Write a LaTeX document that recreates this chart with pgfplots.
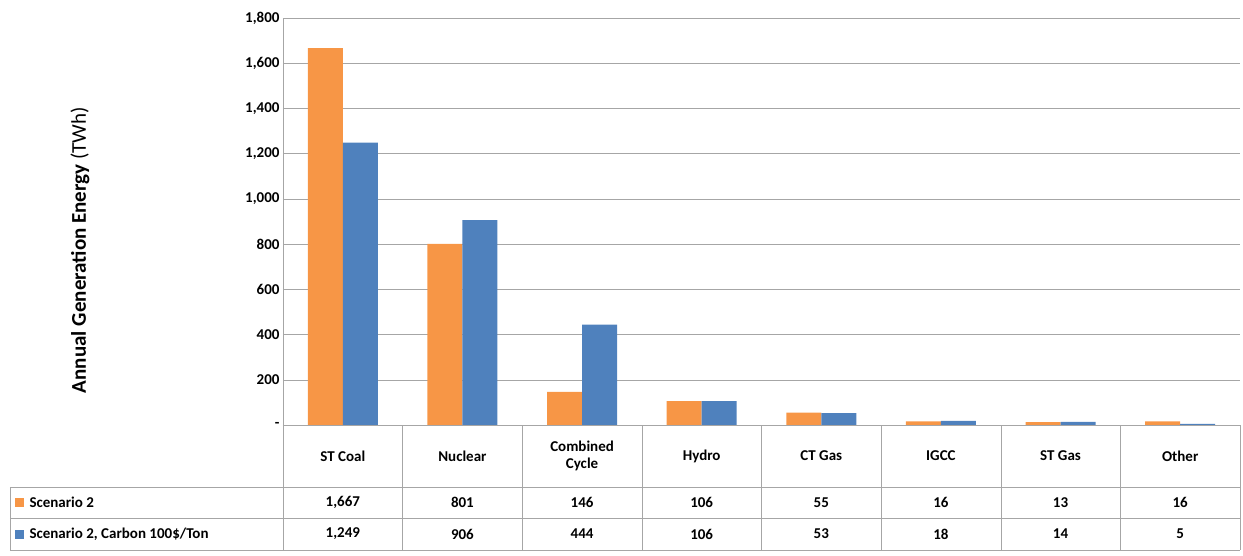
\documentclass[border=0pt]{standalone}
\usepackage{pgfplots}
\pgfplotsset{compat=1.18}
\usepackage{fontspec}
\setmainfont{Carlito}
\definecolor{ora}{HTML}{F79646}
\definecolor{blu}{HTML}{4F81BD}
\begin{document}
\begin{tikzpicture}[x=1pt,y=1pt,font=\fontsize{15}{17}\selectfont]
\path[use as bounding box] (-283,-130) rectangle (960,425);
\begin{axis}[at={(0,0)},anchor=south west,scale only axis,width=957pt,height=407pt,
 xmin=-0.5,xmax=7.5,ymin=0,ymax=1800,
 ybar=0pt,bar width=35pt,
 xtick=\empty,
 ytick={0,200,...,1800},
 yticklabels={-,200,400,600,800,{1,000},{1,200},{1,400},{1,600},{1,800}},
 yticklabel style={font=\fontsize{15}{17}\selectfont\bfseries},
 ymajorgrids,grid style={gray!70},
 axis line style={gray!70},axis x line=none,axis y line*=left,
 major tick length=0pt,
 enlarge x limits=false]
\addplot[fill=ora,draw=none] coordinates {(0,1667)(1,801)(2,146)(3,106)(4,55)(5,16)(6,13)(7,16)};
\addplot[fill=blu,draw=none] coordinates {(0,1249)(1,906)(2,444)(3,106)(4,53)(5,18)(6,14)(7,5)};
\end{axis}
\node[rotate=90,font=\fontsize{21}{23}\selectfont] at (-203,175) {\textbf{Annual Generation Energy} (TWh)};
\draw[gray!70] (0,0) -- (957,0);
\draw[gray!70] (-273,-62) -- (957,-62);
\draw[gray!70] (-273,-93) -- (957,-93);
\draw[gray!70] (-273,-125) -- (957,-125);
\draw[gray!70] (-273,-62) -- (-273,-125);
\foreach \i in {0,...,8} \draw[gray!70] ({\i*119.625},0) -- ({\i*119.625},-125);
\foreach \n [count=\i from 0] in {ST Coal,Nuclear,{Combined\\Cycle},Hydro,CT Gas,IGCC,ST Gas,Other}
  \node[font=\fontsize{15}{17}\selectfont\bfseries,align=center] at ({(\i+0.5)*119.625},-31) {\n};
\foreach \v [count=\i from 0] in {{1,667},801,146,106,55,16,13,16}
  \node[font=\fontsize{15}{17}\selectfont\bfseries] at ({(\i+0.5)*119.625},-77.5) {\v};
\foreach \v [count=\i from 0] in {{1,249},906,444,106,53,18,14,5}
  \node[font=\fontsize{15}{17}\selectfont\bfseries] at ({(\i+0.5)*119.625},-109) {\v};
\fill[ora] (-268,-82) rectangle (-259,-73);
\node[anchor=west,font=\fontsize{15}{17}\selectfont\bfseries] at (-257,-77.5) {Scenario 2};
\fill[blu] (-268,-113.5) rectangle (-259,-104.5);
\node[anchor=west,font=\fontsize{15}{17}\selectfont\bfseries] at (-257,-109) {Scenario 2, Carbon 100\$/Ton};
\end{tikzpicture}
\end{document}
